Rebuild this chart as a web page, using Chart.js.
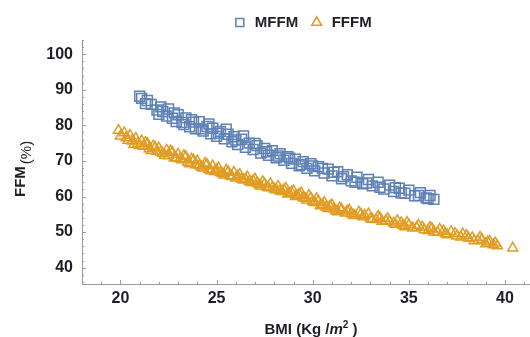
<!DOCTYPE html>
<html>
<head>
<meta charset="utf-8">
<script src="https://cdn.jsdelivr.net/npm/chart.js@4"></script>
<style>
  html, body { margin: 0; padding: 0; background: #fff; }
</style>
</head>
<body>
<canvas id="chart" width="530" height="337"></canvas>
<script>
// values
var seriesNames = ['MFFM', 'FFFM'];

var mffmBmi = [21.0, 21.1, 21.3, 21.6, 21.9, 22.0, 22.2, 22.4, 22.5, 22.7, 22.9, 23.0, 23.2, 23.4, 23.6,
               23.8, 23.9, 24.1, 24.3, 24.5, 24.7, 24.8, 25.0, 25.2, 25.4, 25.6, 25.8, 25.9, 26.1, 26.3,
               26.5, 26.7, 26.9, 27.1, 27.3, 27.5, 27.7, 27.9, 28.1, 28.3, 28.5, 28.7, 28.9, 29.1, 29.3,
               29.5, 29.7, 29.9, 30.1, 30.3, 30.6, 30.8, 31.0, 31.3, 31.5, 31.8, 32.0, 32.3, 32.6, 32.9,
               33.1, 33.4, 33.7, 34.0, 34.2, 34.5, 34.8, 35.0, 35.3, 35.6, 35.9, 36.1, 36.3,
               21.4, 22.1, 22.8, 23.3, 23.7, 24.2, 24.6, 25.1, 25.5, 26.0, 26.4, 27.0, 27.6, 28.2,
               28.8, 29.4, 30.0, 30.5, 31.1, 31.6, 32.2, 32.8, 33.5, 34.3, 34.6, 35.5, 36.0];
var mffmFfm = [88.2, 87.6, 86.1, 85.9, 84.3, 83.1, 83.9, 82.6, 84.6, 82.0, 81.1, 83.0, 80.8, 82.1, 79.6,
               80.9, 79.0, 81.0, 78.4, 79.7, 77.6, 79.2, 76.9, 78.3, 76.2, 77.5, 75.4, 76.8, 74.6, 76.1,
               73.8, 75.0, 73.2, 74.3, 72.2, 73.5, 71.6, 72.9, 70.9, 72.0, 70.2, 71.2, 69.3, 70.5, 68.6,
               69.8, 67.9, 69.2, 67.2, 68.4, 66.6, 67.7, 65.8, 67.0, 65.0, 66.1, 64.4, 65.4, 63.6, 64.8,
               63.0, 64.0, 62.1, 63.2, 61.4, 62.3, 60.9, 61.8, 60.2, 61.1, 59.6, 60.3, 59.2,
               87.0, 85.2, 83.5, 80.2, 81.6, 79.0, 80.4, 77.8, 78.9, 75.9, 77.0, 74.9, 72.6, 71.4,
               70.8, 69.0, 68.6, 67.9, 66.8, 65.6, 64.0, 63.8, 62.6, 62.5, 61.0, 60.3, 59.4];

var fffmBmi = [19.9, 20.2, 20.3, 20.5, 20.6, 20.8, 20.9, 21.1, 21.2, 21.4, 21.5, 21.7, 21.9, 22.0, 22.2,
               22.4, 22.5, 22.7, 22.9, 23.0, 23.2, 23.4, 23.5, 23.7, 23.9, 24.0, 24.2, 24.4, 24.6, 24.8,
               24.9, 25.1, 25.3, 25.5, 25.7, 25.9, 26.0, 26.2, 26.4, 26.6, 26.8, 27.0, 27.2, 27.4, 27.6,
               27.8, 28.0, 28.2, 28.4, 28.6, 28.8, 29.0, 29.2, 29.4, 29.6, 29.8, 30.0, 30.2, 30.4, 30.6,
               30.8, 31.0, 31.2, 31.4, 31.7, 31.9, 32.1, 32.4, 32.6, 32.9, 33.1, 33.4, 33.6, 33.9, 34.2,
               34.4, 34.7, 34.9, 35.2, 35.5, 35.8, 36.1, 36.3, 36.6, 36.9, 37.2, 37.5, 37.8, 38.1, 38.4,
               38.7, 39.0, 39.2, 39.5, 39.6, 40.4,
               20.0, 20.4, 20.7, 21.0, 21.3, 21.6, 21.8, 22.1, 22.3, 22.6, 22.8, 23.1, 23.3, 23.6, 23.8,
               24.1, 24.3, 24.5, 24.7, 25.0, 25.2, 25.4, 25.6, 25.8, 26.1, 26.3, 26.5, 26.7, 26.9, 27.1,
               27.3, 27.5, 27.7, 27.9, 28.1, 28.3, 28.5, 28.7, 28.9, 29.1, 29.3, 29.5, 29.7, 29.9, 30.1,
               30.3, 30.5, 30.7, 30.9, 31.1, 31.3, 31.5, 31.8, 32.0, 32.2, 32.5, 32.7, 33.0, 33.3, 33.5,
               33.8, 34.0, 34.3, 34.6, 34.8, 35.0, 35.4, 35.7, 36.0, 36.2, 36.5, 36.8, 37.0, 37.4, 37.7,
               38.0, 38.3, 38.6, 38.8, 39.1, 39.4];
var fffmFfm = [78.6, 77.9, 76.5, 77.2, 75.6, 76.3, 74.9, 75.6, 74.1, 74.9, 73.4, 74.2, 72.7, 73.6, 72.1,
               73.0, 71.4, 72.4, 70.8, 71.9, 70.3, 71.2, 69.6, 70.5, 68.9, 70.0, 68.3, 69.3, 67.6, 68.6,
               67.0, 68.0, 66.4, 67.4, 65.8, 66.8, 65.2, 66.2, 64.6, 65.5, 63.9, 64.9, 63.3, 64.2, 62.7,
               63.6, 62.1, 62.9, 61.4, 62.3, 60.8, 61.6, 60.2, 61.0, 59.5, 60.3, 58.6, 59.4, 57.4, 58.3,
               56.6, 57.6, 56.0, 56.8, 55.3, 56.2, 54.8, 55.6, 54.3, 55.1, 53.6, 54.4, 53.0, 53.8, 52.5,
               53.2, 51.8, 52.7, 51.1, 51.9, 50.6, 51.3, 50.0, 50.8, 49.5, 50.1, 48.9, 49.5, 48.3, 47.5,
               48.5, 46.7, 47.4, 46.9, 46.1, 45.5,
               77.0, 75.8, 74.6, 74.3, 75.2, 72.9, 73.8, 72.5, 71.6, 72.8, 70.9, 70.6, 71.5, 69.2, 70.2,
               68.7, 68.0, 69.0, 67.2, 67.5, 66.7, 66.0, 67.0, 65.6, 65.7, 64.9, 64.9, 64.2, 64.4, 63.8,
               62.9, 63.5, 62.4, 62.5, 61.9, 61.6, 61.9, 60.7, 61.2, 60.0, 60.6, 59.7, 59.0, 59.6, 58.3,
               58.7, 57.7, 57.0, 57.3, 56.5, 55.7, 56.4, 55.9, 55.2, 54.6, 55.0, 54.7, 53.8, 53.5, 54.0,
               53.2, 53.0, 52.2, 52.6, 51.5, 52.0, 51.3, 51.4, 50.4, 51.0, 49.9, 50.3, 49.2, 49.6, 48.6,
               49.0, 48.4, 47.6, 47.9, 47.2, 46.4];

var xTicks = [20, 25, 30, 35, 40];
var yTicks = [40, 50, 60, 70, 80, 90, 100];

var blue = '#5E81B5';
var orange = '#E19C24';
var axisGray = '#9a9a9a';
var textColor = '#1e1e28';
var fontFamily = '"Liberation Sans", Arial, sans-serif';

function toPoints(xs, ys) {
  return xs.map(function(x, i) { return {x: x, y: ys[i]}; });
}

// inward tick marks, long on the labelled values, short in between
var tickMarks = {
  id: 'tickMarks',
  afterLayout: function(chart) {
    // centre the legend over the plot area rather than the whole canvas
    if (chart.legend) chart.legend.left = chart.chartArea.left - 8;
  },
  afterDraw: function(chart) {
    var ctx = chart.ctx, area = chart.chartArea;
    var xs = chart.scales.x, ys = chart.scales.y;
    ctx.save();
    ctx.strokeStyle = axisGray;
    ctx.lineWidth = 1;
    ctx.beginPath();
    for (var v = 19; v <= 41; v++) {
      var px = Math.round(xs.getPixelForValue(v)) + 0.5;
      var len = xTicks.indexOf(v) >= 0 ? 4 : 2;
      ctx.moveTo(px, area.bottom);
      ctx.lineTo(px, area.bottom - len);
    }
    for (var w = 36; w <= 104; w += 2) {
      var py = Math.round(ys.getPixelForValue(w)) + 0.5;
      var l = yTicks.indexOf(w) >= 0 ? 4 : 2;
      ctx.moveTo(area.left, py);
      ctx.lineTo(area.left + l, py);
    }
    ctx.stroke();
    ctx.restore();
  }
};

// axis titles with mixed styles (italic m, superscript 2)
var axisTitles = {
  id: 'axisTitles',
  afterDraw: function(chart) {
    var ctx = chart.ctx, area = chart.chartArea;
    ctx.save();
    ctx.fillStyle = textColor;
    ctx.textBaseline = 'alphabetic';
    ctx.textAlign = 'left';

    var parts = [
      {t: 'BMI (Kg /', f: 'bold 15px ' + fontFamily, dy: 0},
      {t: 'm', f: 'italic bold 15px ' + fontFamily, dy: 0},
      {t: '2', f: 'bold 10px ' + fontFamily, dy: -6},
      {t: ' )', f: 'bold 15px ' + fontFamily, dy: 0}
    ];
    var total = 0;
    parts.forEach(function(p) { ctx.font = p.f; p.w = ctx.measureText(p.t).width; total += p.w; });
    var x = (area.left + area.right) / 2 + 5 - total / 2;
    parts.forEach(function(p) {
      ctx.font = p.f;
      ctx.fillText(p.t, x, 334 + p.dy);
      x += p.w;
    });

    ctx.translate(25, 197);
    ctx.rotate(-Math.PI / 2);
    ctx.font = 'bold 15px ' + fontFamily;
    ctx.fillText('FFM', 0, 0);
    var fw = ctx.measureText('FFM').width;
    ctx.font = '15px ' + fontFamily;
    ctx.fillText('(%)', fw + 2, 6);
    ctx.restore();
  }
};

var ctx = document.getElementById('chart').getContext('2d');
var chart = new Chart(ctx, {
  type: 'scatter',
  data: {
    datasets: [
      {
        label: seriesNames[0],
        data: toPoints(mffmBmi, mffmFfm),
        pointStyle: 'rect',
        pointRadius: 7,
        pointHoverRadius: 7,
        borderWidth: 1.5,
        borderColor: blue,
        backgroundColor: 'rgba(0,0,0,0)'
      },
      {
        label: seriesNames[1],
        data: toPoints(fffmBmi, fffmFfm),
        pointStyle: 'triangle',
        pointRadius: 5.8,
        pointHoverRadius: 5.8,
        borderWidth: 1.5,
        borderColor: orange,
        backgroundColor: 'rgba(0,0,0,0)'
      }
    ]
  },
  options: {
    responsive: false,
    animation: false,
    events: [],
    layout: { autoPadding: false, padding: { top: 4, left: 0, right: 0, bottom: 0 } },
    plugins: {
      legend: {
        position: 'top',
        labels: {
          usePointStyle: true,
          boxHeight: 8,
          padding: 11,
          color: textColor,
          font: { family: fontFamily, size: 15, weight: 'bold' }
        }
      },
      tooltip: { enabled: false }
    },
    scales: {
      x: {
        type: 'linear',
        min: 18,
        max: 41.3,
        afterBuildTicks: function(scale) {
          scale.ticks = xTicks.map(function(v) { return {value: v}; });
        },
        afterFit: function(scale) {
          scale.height = 53;
          scale.paddingLeft = 0;
          scale.paddingRight = 0;
        },
        grid: { display: false, drawTicks: false },
        border: { display: true, color: axisGray, width: 1 },
        ticks: {
          autoSkip: false,
          maxRotation: 0,
          padding: 5,
          color: textColor,
          font: { family: fontFamily, size: 16, weight: 'bold' }
        }
      },
      y: {
        type: 'linear',
        min: 35.4,
        max: 104,
        afterBuildTicks: function(scale) {
          scale.ticks = yTicks.map(function(v) { return {value: v}; });
        },
        afterFit: function(scale) {
          scale.width = 82;
          scale.paddingTop = 0;
          scale.paddingBottom = 0;
        },
        grid: { display: false, drawTicks: false },
        border: { display: true, color: axisGray, width: 1 },
        ticks: {
          autoSkip: false,
          padding: 9,
          color: textColor,
          font: { family: fontFamily, size: 16, weight: 'bold' }
        }
      }
    }
  },
  plugins: [tickMarks, axisTitles]
});
</script>
</body>
</html>
